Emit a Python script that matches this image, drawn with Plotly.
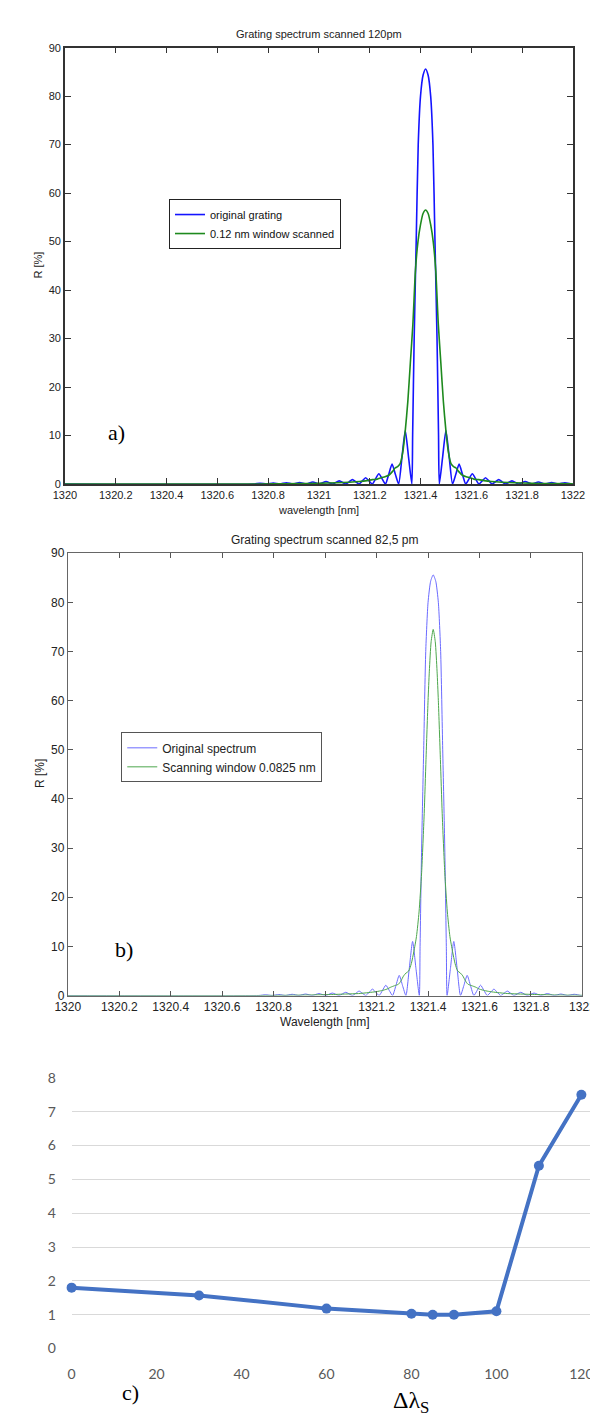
import plotly.graph_objects as go

W, H = 598, 1416

# ---------------- data ----------------
# original grating spectrum (same in panels a and b)
wl_orig = [1320.000, 1320.742, 1320.768, 1320.794, 1320.820, 1320.846, 1320.872, 1320.898,
           1320.924, 1320.950, 1320.976, 1321.002, 1321.028, 1321.054, 1321.080, 1321.106,
           1321.119, 1321.132, 1321.145, 1321.158, 1321.171, 1321.184, 1321.197, 1321.210,
           1321.223, 1321.236, 1321.249, 1321.262, 1321.275, 1321.288, 1321.301, 1321.314,
           1321.327, 1321.340, 1321.353, 1321.366, 1321.369, 1321.375, 1321.383, 1321.391,
           1321.400, 1321.410, 1321.420, 1321.430, 1321.440, 1321.449, 1321.457, 1321.465,
           1321.471, 1321.474, 1321.487, 1321.500, 1321.513, 1321.526, 1321.539, 1321.552,
           1321.565, 1321.578, 1321.591, 1321.604, 1321.617, 1321.630, 1321.643, 1321.656,
           1321.669, 1321.682, 1321.695, 1321.708, 1321.721, 1321.734, 1321.760, 1321.786,
           1321.812, 1321.838, 1321.864, 1321.890, 1321.916, 1321.942, 1321.968, 1321.994,
           1322.000]
r_orig = [0, 0, 0.15, 0, 0.2, 0, 0.25, 0,
          0.3, 0, 0.4, 0, 0.5, 0, 0.65, 0,
          0.45, 0.9, 0.45, 0, 0.65, 1.3, 0.65, 0,
          1.05, 2.1, 1.05, 0, 2.0, 4.1, 2.0, 0,
          5.5, 11.0, 5.5, 0, 10, 30, 50, 70,
          80, 84.3, 85.6, 84.3, 80, 70, 50, 30,
          10, 0, 5.5, 11.0, 5.5, 0, 2.0, 4.1,
          2.0, 0, 1.05, 2.1, 1.05, 0, 0.65, 1.3,
          0.65, 0, 0.45, 0.9, 0.45, 0, 0.65, 0,
          0.5, 0, 0.4, 0, 0.3, 0, 0.25, 0,
          0]

# 0.12 nm window scanned (panel a)
wl_scan120 = [1320.000, 1320.720, 1320.820, 1320.920, 1321.000, 1321.070, 1321.120, 1321.160,
              1321.190, 1321.210, 1321.230, 1321.245, 1321.260, 1321.275, 1321.290, 1321.300,
              1321.310, 1321.320, 1321.330, 1321.340, 1321.350, 1321.360, 1321.370, 1321.380,
              1321.390, 1321.400, 1321.410, 1321.420, 1321.430, 1321.440, 1321.450, 1321.460,
              1321.470, 1321.480, 1321.490, 1321.500, 1321.510, 1321.520, 1321.530, 1321.540,
              1321.550, 1321.565, 1321.580, 1321.595, 1321.610, 1321.630, 1321.650, 1321.680,
              1321.720, 1321.770, 1321.840, 1321.920, 1322.000]
r_scan120 = [0, 0, 0.03, 0.08, 0.15, 0.25, 0.35, 0.5,
             0.7, 0.9, 1.0, 1.3, 1.5, 1.8, 2.6, 3.3,
             3.6, 4.2, 6.5, 11, 17, 25, 33, 44,
             50, 53.5, 55.8, 56.5, 55.8, 53.5, 50, 44,
             33, 25, 17, 11, 6.5, 4.2, 3.6, 3.3,
             2.6, 1.8, 1.5, 1.3, 1.0, 0.9, 0.7, 0.5,
             0.35, 0.25, 0.15, 0.08, 0.03]

# 0.0825 nm scanning window (panel b)
wl_scan825 = [1320.000, 1320.720, 1320.840, 1320.940, 1321.020, 1321.080, 1321.130, 1321.170,
              1321.200, 1321.220, 1321.240, 1321.255, 1321.270, 1321.285, 1321.295, 1321.305,
              1321.315, 1321.325, 1321.335, 1321.345, 1321.355, 1321.365, 1321.375, 1321.385,
              1321.392, 1321.400, 1321.405, 1321.412, 1321.420, 1321.428, 1321.435, 1321.440,
              1321.448, 1321.455, 1321.465, 1321.475, 1321.485, 1321.495, 1321.505, 1321.515,
              1321.525, 1321.535, 1321.545, 1321.555, 1321.570, 1321.585, 1321.600, 1321.620,
              1321.640, 1321.670, 1321.710, 1321.760, 1321.820, 1321.900, 1322.000]
r_scan825 = [0, 0, 0.04, 0.1, 0.2, 0.3, 0.4, 0.6,
             0.8, 1.0, 1.3, 1.7, 2.0, 2.3, 3.0, 4.0,
             4.6, 5.0, 6.5, 9, 12, 17, 25, 37,
             48, 60, 66, 72, 74.5, 72, 66, 60,
             48, 37, 25, 17, 12, 9, 6.5, 5.0,
             4.6, 4.0, 3.0, 2.3, 2.0, 1.7, 1.3, 1.0,
             0.8, 0.6, 0.4, 0.3, 0.2, 0.1, 0.04]

# panel c
dls = [0, 30, 60, 80, 85, 90, 100, 110, 120]
err = [1.8, 1.57, 1.18, 1.03, 1.0, 1.0, 1.1, 5.4, 7.5]

wl_ticks = [1320, 1320.2, 1320.4, 1320.6, 1320.8, 1321, 1321.2, 1321.4, 1321.6, 1321.8, 1322]
wl_ticktext = ["1320", "1320.2", "1320.4", "1320.6", "1320.8", "1321",
               "1321.2", "1321.4", "1321.6", "1321.8", "1322"]
r_ticks = [0, 10, 20, 30, 40, 50, 60, 70, 80, 90]
c_xticks = [0, 20, 40, 60, 80, 100, 120]
c_yticks = [0, 1, 2, 3, 4, 5, 6, 7, 8]

# ---------------- helpers ----------------
def fx(px):
    return px / W

def fy(py):
    return 1 - py / H

ARIAL = "Liberation Sans, Arial, sans-serif"
SERIF = "Liberation Serif, Times New Roman, serif"

fig = go.Figure()

# panel a
fig.add_trace(go.Scatter(x=wl_orig, y=r_orig, mode="lines", name="original grating",
                         line=dict(color="#1414ff", width=1.6, shape="spline", smoothing=0.6),
                         xaxis="x", yaxis="y", legend="legend"))
fig.add_trace(go.Scatter(x=wl_scan120, y=r_scan120, mode="lines", name="0.12 nm window scanned",
                         line=dict(color="#1e8a1e", width=1.6, shape="spline", smoothing=0.6),
                         xaxis="x", yaxis="y", legend="legend"))
# panel b
fig.add_trace(go.Scatter(x=wl_orig, y=r_orig, mode="lines", name="Original spectrum",
                         line=dict(color="#6a6aff", width=1, shape="spline", smoothing=0.6),
                         xaxis="x2", yaxis="y2", legend="legend2"))
fig.add_trace(go.Scatter(x=wl_scan825, y=r_scan825, mode="lines", name="Scanning window 0.0825 nm",
                         line=dict(color="#4ca64c", width=1, shape="spline", smoothing=0.6),
                         xaxis="x2", yaxis="y2", legend="legend2"))
# panel c
fig.add_trace(go.Scatter(x=dls, y=err, mode="lines+markers", showlegend=False,
                         line=dict(color="#4472c4", width=4),
                         marker=dict(color="#4472c4", size=10),
                         cliponaxis=False, xaxis="x3", yaxis="y3"))

axA = dict(showline=True, linecolor="#333333", linewidth=1.5, mirror="ticks",
           ticks="inside", ticklen=6, tickcolor="#333333", tickwidth=1,
           showgrid=False, zeroline=False,
           tickfont=dict(family=ARIAL, size=11, color="#222222"))
axB = dict(showline=True, linecolor="#666666", linewidth=1, mirror="ticks",
           ticks="inside", ticklen=5, tickcolor="#555555", tickwidth=1,
           showgrid=False, zeroline=False,
           tickfont=dict(family=ARIAL, size=12, color="#222222"))

fig.update_layout(
    width=W, height=H,
    margin=dict(l=0, r=0, t=0, b=0),
    paper_bgcolor="white", plot_bgcolor="white",
    xaxis=dict(axA, domain=[fx(46), fx(578)], range=[1320, 1322], anchor="y",
               tickvals=wl_ticks, ticktext=wl_ticktext),
    yaxis=dict(axA, domain=[fy(473), fy(32)], range=[0, 90], anchor="x",
               tickvals=r_ticks),
    xaxis2=dict(axB, domain=[fx(49), fx(588)], range=[1320, 1322], anchor="y2",
                tickvals=wl_ticks, ticktext=wl_ticktext),
    yaxis2=dict(axB, domain=[fy(990), fy(543)], range=[0, 90], anchor="x2",
                tickvals=r_ticks),
    xaxis3=dict(domain=[fx(53), 1.0], range=[0, 122.5], anchor="y3",
                showline=False, showgrid=False, zeroline=False,
                tickvals=c_xticks, ticks="outside", ticklen=12, tickcolor="rgba(0,0,0,0)",
                tickfont=dict(family="Lato, sans-serif", size=14, color="#595959")),
    yaxis3=dict(domain=[fy(1347.5), fy(1072.5)], range=[-0.02, 8.02], anchor="x3",
                showline=False, showgrid=True, gridcolor="#d9d9d9", gridwidth=1,
                zeroline=False, tickvals=c_yticks,
                ticks="outside", ticklen=12, tickcolor="rgba(0,0,0,0)",
                tickfont=dict(family="Lato, sans-serif", size=14, color="#595959")),
    legend=dict(x=fx(155), y=fy(185), xanchor="left", yanchor="top",
                bgcolor="white", bordercolor="#222222", borderwidth=1,
                font=dict(family=ARIAL, size=11, color="#111111"),
                tracegroupgap=0, itemwidth=30),
    legend2=dict(x=fx(105), y=fy(724), xanchor="left", yanchor="top",
                 bgcolor="white", bordercolor="#555555", borderwidth=1,
                 font=dict(family=ARIAL, size=12, color="#222222"),
                 tracegroupgap=0, itemwidth=30),
)

def ann(text, x, y, size, family=ARIAL, color="#222222", angle=0):
    fig.add_annotation(text=text, x=fx(x), y=fy(y), xref="paper", yref="paper",
                       xanchor="center", yanchor="middle", showarrow=False,
                       textangle=angle, font=dict(family=family, size=size, color=color))

ann("Grating spectrum scanned 120pm", 312, 18, 11)
ann("wavelength [nm]", 312, 499, 11)
ann("R [%]", 18, 252, 11, angle=-90)
ann("a)", 100, 421, 22, family=SERIF, color="#000000")

ann("Grating spectrum scanned 82,5 pm", 318, 530, 12)
ann("Wavelength [nm]", 318, 1017, 12)
ann("R [%]", 20, 766, 12, angle=-90)
ann("b)", 108, 943, 22, family=SERIF, color="#000000")

ann("c)", 115, 1391, 22, family=SERIF, color="#000000")
ann("Δλ<sub>S</sub>", 408, 1401, 24, family=SERIF, color="#000000")

fig.write_html("out.html")
